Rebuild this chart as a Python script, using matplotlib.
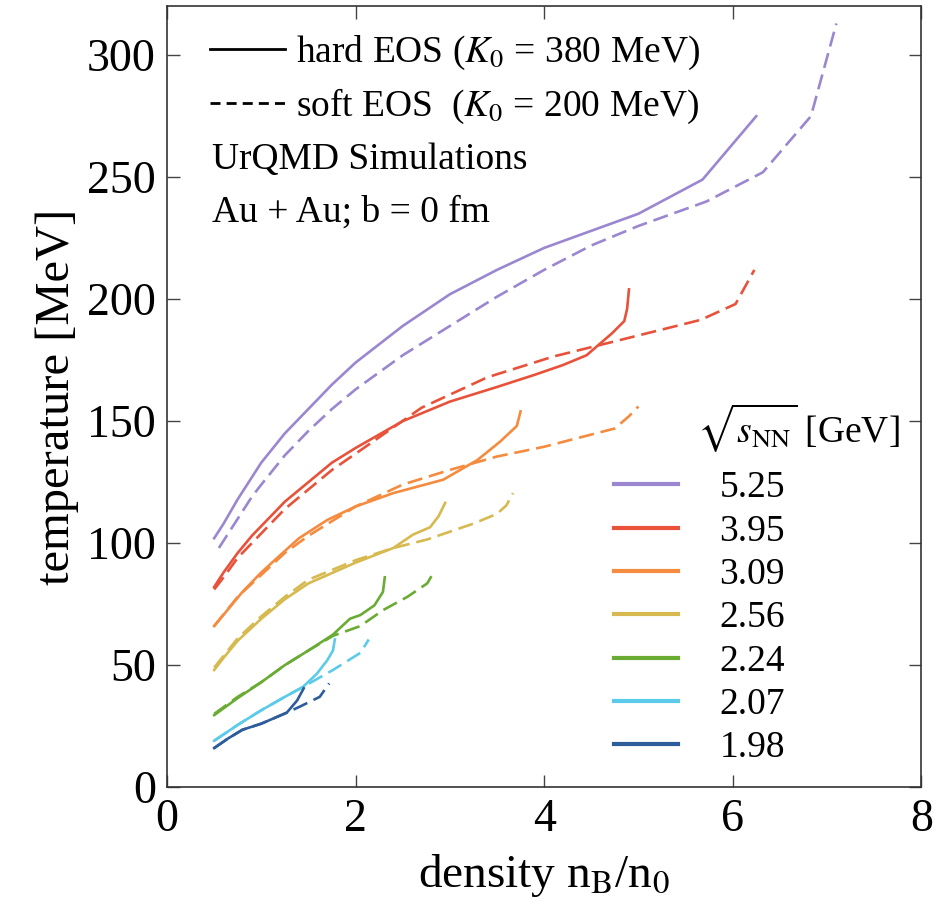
import matplotlib
matplotlib.use("Agg")
import matplotlib.pyplot as plt
from matplotlib.lines import Line2D

plt.rcParams['font.family'] = 'serif'
plt.rcParams['font.serif'] = ['Liberation Serif', 'DejaVu Serif']
plt.rcParams['mathtext.fontset'] = 'stix'

# energies sqrt(s_NN) [GeV] and colours
energies = ['5.25', '3.95', '3.09', '2.56', '2.24', '2.07', '1.98']
colors = ['#9a87d0', '#e8523b', '#f48b3f', '#d6b94f', '#6aab34', '#5ccbea', '#2d5d9b']

# hard EOS (K0 = 380 MeV): density n_B/n_0, temperature [MeV]
hard_x = [
    [0.5, 0.6, 0.75, 0.9, 1.0, 1.25, 1.5, 1.75, 2.0, 2.5, 3.0, 3.5, 4.0, 4.5, 5.0, 5.68, 6.25],
    [0.5, 0.6, 0.75, 0.9, 1.0, 1.25, 1.5, 1.75, 2.0, 2.5, 3.0, 3.5, 3.9, 4.2, 4.45, 4.72, 4.85, 4.88, 4.9],
    [0.5, 0.65, 0.8, 1.0, 1.17, 1.4, 1.7, 2.0, 2.4, 2.93, 3.29, 3.53, 3.71, 3.75],
    [0.5, 0.6, 0.75, 1.0, 1.25, 1.5, 2.0, 2.4, 2.61, 2.79, 2.88, 2.95],
    [0.5, 0.75, 1.0, 1.25, 1.5, 1.76, 1.94, 2.05, 2.2, 2.29, 2.31],
    [0.5, 0.75, 1.0, 1.25, 1.44, 1.59, 1.7, 1.76, 1.78],
    [0.5, 0.65, 0.8, 1.0, 1.15, 1.27, 1.38, 1.45],
]
hard_y = [
    [102, 108, 118, 127, 133, 145, 155, 165, 174, 189, 202, 212, 221, 228, 235, 249, 275],
    [82, 88, 96, 103, 107, 117, 125, 133, 139, 150, 158, 164, 169, 173, 177, 186, 191, 196, 204],
    [66, 73, 80, 88, 94, 102, 109.5, 115, 120.5, 126, 134, 141.5, 148, 154],
    [48, 53, 60, 69, 77, 83.5, 92, 98, 103.5, 106.5, 111, 116.5],
    [29.5, 36.5, 43, 50, 56, 62.5, 69, 70.5, 74.5, 80, 86],
    [19, 25.5, 31.5, 37, 41, 46.5, 52, 56, 60.5],
    [16, 20, 23.5, 26, 28.5, 30.5, 35.5, 40.5],
]

# soft EOS (K0 = 200 MeV)
soft_x = [
    [0.55, 0.65, 0.75, 0.9, 1.0, 1.25, 1.5, 1.75, 2.0, 2.5, 3.0, 3.5, 4.0, 4.5, 5.0, 5.72, 6.32, 6.83, 7.1],
    [0.5, 0.6, 0.75, 0.9, 1.0, 1.25, 1.5, 1.75, 2.05, 2.7, 3.4, 4.1, 4.78, 5.66, 6.03, 6.23],
    [0.5, 0.75, 1.0, 1.25, 1.5, 2.0, 2.5, 3.0, 3.5, 4.0, 4.4, 4.75, 4.9, 5.0],
    [0.5, 0.75, 1.0, 1.25, 1.5, 2.0, 2.4, 2.76, 3.25, 3.5, 3.6, 3.67],
    [0.5, 0.75, 1.0, 1.25, 1.5, 1.76, 2.05, 2.29, 2.55, 2.76, 2.82],
    [0.5, 0.75, 1.0, 1.25, 1.44, 1.76, 2.05, 2.14],
    [0.5, 0.65, 0.8, 1.0, 1.15, 1.27, 1.41, 1.62, 1.72],
]
soft_y = [
    [98, 104, 110, 119, 124, 136, 146, 155, 163, 177, 189, 201, 212, 222, 230, 240, 252, 275, 313],
    [81, 86, 94, 100, 104, 114, 122, 130, 138, 155.5, 168, 176.5, 183, 191.5, 198, 212],
    [66, 78, 87, 96, 103, 115, 124, 130, 135.5, 139.5, 143.5, 147, 152, 156],
    [49, 61, 70, 78, 85, 93, 98, 101.5, 108, 112, 115.5, 120.5],
    [30, 37, 43, 50, 56, 62, 66, 72.5, 78, 83.5, 87.5],
    [19, 25.5, 31.5, 37, 41, 48, 55, 60.5],
    [16, 20, 23.5, 26, 28.5, 30.5, 33, 37, 42.5],
]

fig = plt.figure(figsize=(9.41, 9.11), dpi=100)
ax = fig.add_axes([0.1775, 0.136, 0.8015, 0.857])

for i in range(len(energies)):
    ax.plot(hard_x[i], hard_y[i], color=colors[i], lw=1.9, solid_joinstyle='round')
    ax.plot(soft_x[i], soft_y[i], color=colors[i], lw=1.9, ls=(0, (5.8, 2.6)))

ax.set_xlim(0, 8)
ax.set_ylim(0, 320)
ax.set_xticks([0, 2, 4, 6, 8])
ax.set_yticks([0, 50, 100, 150, 200, 250, 300])
ax.tick_params(direction='in', length=9, width=1.0, top=True, right=True,
               labelsize=33, pad=8, color='#444444')
for s in ax.spines.values():
    s.set_linewidth(1.2)
    s.set_color('#333333')

ax.set_xlabel(r'density n$_\mathrm{B}$/n$_0$', fontsize=34, labelpad=8)
ax.set_ylabel('temperature [MeV]', fontsize=35, labelpad=6)

# EOS legend
eos_handles = [Line2D([], [], color='black', lw=2.0),
               Line2D([], [], color='black', lw=2.0, ls=(0, (3.6, 2.2)))]
eos_labels = [r'hard EOS ($K_0$ = 380 MeV)', r'soft EOS  ($K_0$ = 200 MeV)']
leg1 = ax.legend(eos_handles, eos_labels, loc='upper left', bbox_to_anchor=(0.022, 0.998),
                 frameon=False, fontsize=27, handlelength=2.0, handletextpad=0.3,
                 labelspacing=0.38, borderaxespad=0.3)
ax.add_artist(leg1)

ax.text(0.06, 0.803, 'UrQMD Simulations', transform=ax.transAxes, fontsize=27, va='center')
ax.text(0.06, 0.736, 'Au + Au; b = 0 fm', transform=ax.transAxes, fontsize=27, va='center')

# energy legend
ax.text(0.703, 0.461, r'$\sqrt{s_{\mathrm{NN}}}$ [GeV]', transform=ax.transAxes,
        fontsize=27, va='center')
e_handles = [Line2D([], [], color=c, lw=3.0) for c in colors]
leg2 = ax.legend(e_handles, energies, loc='upper left', bbox_to_anchor=(0.593, 0.405),
                 frameon=False, fontsize=27, handlelength=1.7, handletextpad=1.1,
                 labelspacing=0.235, borderpad=0, borderaxespad=0)

fig.savefig('out.png', dpi=100)
